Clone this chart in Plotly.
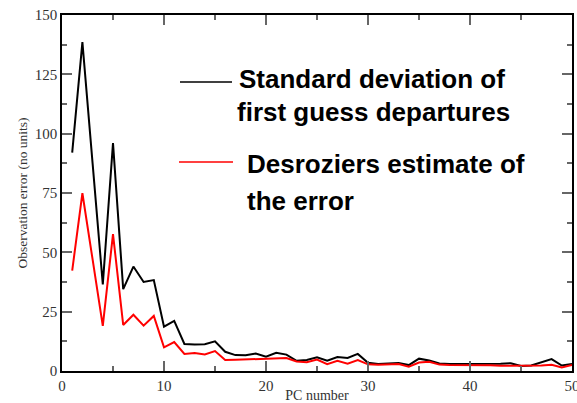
import plotly.graph_objects as go

pc_number = list(range(1, 51))
std_fg_departures = [92.0, 138.6, 87.5, 36.5, 96.0, 34.5, 44.0, 37.5, 38.3, 18.7,
                     21.1, 11.4, 11.2, 11.3, 12.5, 8.1, 6.7, 6.6, 7.4, 6.0,
                     7.7, 6.9, 4.3, 4.6, 5.8, 4.3, 5.9, 5.5, 7.2, 3.5,
                     3.0, 3.2, 3.4, 2.5, 5.2, 4.4, 3.2, 2.9, 2.9, 2.9,
                     2.9, 3.0, 3.1, 3.3, 2.1, 2.3, 3.5, 5.0, 2.3, 3.0]
desroziers_error = [42.3, 74.9, 47.0, 19.0, 57.7, 19.4, 23.7, 19.1, 23.2, 10.0,
                    12.2, 7.2, 7.6, 7.0, 8.4, 4.6, 4.7, 4.8, 5.0, 5.1,
                    5.3, 5.5, 4.0, 3.7, 4.8, 2.9, 4.3, 3.1, 4.6, 2.8,
                    2.6, 2.8, 2.9, 1.8, 3.6, 3.9, 2.7, 2.5, 2.5, 2.5,
                    2.6, 2.4, 2.2, 2.2, 2.0, 2.2, 2.3, 2.6, 1.5, 2.5]

legend_lines_1 = ["Standard deviation of", "first guess departures"]
legend_lines_2 = ["Desroziers estimate of", "the error"]

fig = go.Figure()
fig.add_trace(go.Scatter(x=pc_number, y=std_fg_departures, mode="lines",
                         line=dict(color="#000000", width=2),
                         name="Standard deviation of first guess departures"))
fig.add_trace(go.Scatter(x=pc_number, y=desroziers_error, mode="lines",
                         line=dict(color="#ff0000", width=2),
                         name="Desroziers estimate of the error"))

W, H = 577, 403
ml, mr, mt, mb = 62, 5, 15, 32
pw, ph = W - ml - mr, H - mt - mb

def px(x):
    return (x - ml) / pw

def py(y):
    return (H - mb - y) / ph

# legend lines
fig.add_shape(type="line", xref="paper", yref="paper",
              x0=px(180), x1=px(232), y0=py(82), y1=py(82),
              line=dict(color="#000000", width=1.5))
fig.add_shape(type="line", xref="paper", yref="paper",
              x0=px(179), x1=px(233), y0=py(162), y1=py(162),
              line=dict(color="#ff0000", width=1.5))

lfont = dict(family="Liberation Sans, Arial, sans-serif", size=26, color="#000000")
for txt, x, y in [(legend_lines_1[0], 237, 79), (legend_lines_1[1], 235, 112),
                  (legend_lines_2[0], 245, 164), (legend_lines_2[1], 245, 201)]:
    fig.add_annotation(text="<b>" + txt + "</b>", xref="paper", yref="paper",
                       x=px(x), y=py(y), xanchor="left", yanchor="middle",
                       showarrow=False, font=lfont)

serif = "Liberation Serif, Times New Roman, serif"
axis_common = dict(showline=True, linecolor="#000000", linewidth=1.5, mirror="ticks",
                   ticks="inside", ticklen=10, tickwidth=1.5, tickcolor="#666666",
                   showgrid=False, zeroline=False, ticklabeloverflow="allow",
                   tickfont=dict(family=serif, size=15, color="#333333"))

fig.update_xaxes(range=[0, 50], dtick=10, tick0=0,
                 minor=dict(dtick=5, ticks="inside", ticklen=5, tickwidth=1.5, tickcolor="#666666", showgrid=False),
                 title=dict(text="PC number", font=dict(family=serif, size=14, color="#333333"), standoff=0),
                 **axis_common)
fig.update_yaxes(range=[0, 150], dtick=25, tick0=0,
                 minor=dict(dtick=12.5, ticks="inside", ticklen=5, tickwidth=1.5, tickcolor="#666666", showgrid=False),
                 title=dict(text="Observation error (no units)", font=dict(family=serif, size=13.5, color="#333333"), standoff=4),
                 **axis_common)

fig.update_layout(width=W, height=H, margin=dict(l=ml, r=mr, t=mt, b=mb, autoexpand=False),
                  showlegend=False, plot_bgcolor="#ffffff", paper_bgcolor="#ffffff")

fig.write_html("out.html")
